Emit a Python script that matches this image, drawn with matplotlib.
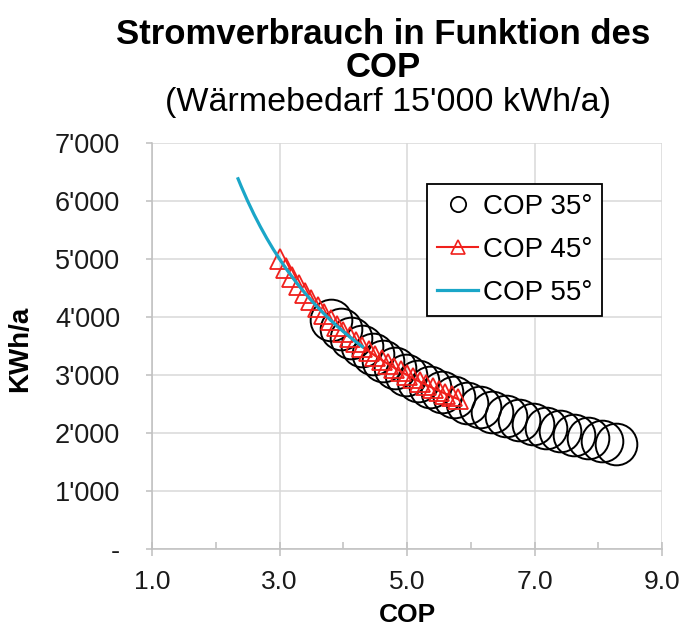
import matplotlib
matplotlib.use("Agg")
import matplotlib.pyplot as plt
from matplotlib.lines import Line2D
from matplotlib.ticker import FuncFormatter, MultipleLocator

plt.rcParams['font.family'] = ['Liberation Sans', 'DejaVu Sans']

# --- data ---
cop35 = [3.80, 3.96, 4.12, 4.29, 4.46, 4.63, 4.81, 4.99, 5.17, 5.36, 5.55, 5.74,
         5.94, 6.14, 6.34, 6.55, 6.76, 6.97, 7.18, 7.40, 7.62, 7.84, 8.06, 8.28]
kwh35 = [3947, 3788, 3641, 3497, 3363, 3240, 3119, 3006, 2901, 2799, 2703, 2613,
         2525, 2443, 2366, 2290, 2219, 2152, 2089, 2027, 1969, 1913, 1861, 1812]

cop45 = [3.0, 3.1, 3.2, 3.3, 3.4, 3.5, 3.6, 3.7, 3.8, 3.9, 4.0, 4.1, 4.2, 4.3,
         4.4, 4.5, 4.6, 4.7, 4.8, 4.9, 5.0, 5.1, 5.2, 5.3, 5.4, 5.5, 5.6, 5.7, 5.8]
kwh45 = [5000, 4839, 4688, 4545, 4412, 4286, 4167, 4054, 3947, 3846, 3750, 3659,
         3571, 3488, 3409, 3333, 3261, 3191, 3125, 3061, 3000, 2941, 2885, 2830,
         2778, 2727, 2679, 2632, 2586]

cop55 = [2.35, 2.4, 2.5, 2.6, 2.7, 2.8, 2.9, 3.0, 3.1, 3.2, 3.3, 3.4, 3.5, 3.6,
         3.7, 3.8, 3.9, 4.0, 4.1, 4.2, 4.3]
kwh55 = [6383, 6250, 6000, 5769, 5556, 5357, 5172, 5000, 4839, 4688, 4545, 4412,
         4286, 4167, 4054, 3947, 3846, 3750, 3659, 3571, 3488]

series_labels = ["COP 35°", "COP 45°", "COP 55°"]
x_ticks = [1.0, 3.0, 5.0, 7.0, 9.0]
y_ticks = [0, 1000, 2000, 3000, 4000, 5000, 6000, 7000]

RED = '#F0201C'
CYAN = '#1AA6C8'
GRID = '#D9D9D9'
AXC = '#BFBFBF'

fig = plt.figure(figsize=(6.81, 6.29), dpi=100)
ax = fig.add_axes([152/681, 1-549/629, 510/681, 406/629])

ax.plot(cop35, kwh35, linestyle='none', marker='o', markersize=30,
        markerfacecolor='none', markeredgecolor='black', markeredgewidth=1.4, zorder=3)
ax.plot(cop45, kwh45, color=RED, linewidth=1.6, marker='^', markersize=15,
        markerfacecolor='none', markeredgecolor=RED, markeredgewidth=1.3, zorder=4)
ax.plot(cop55, kwh55, color=CYAN, linewidth=2.3, zorder=5)

ax.set_xlim(1.0, 9.0)
ax.set_ylim(0, 7000)
ax.set_xticks(x_ticks)
ax.xaxis.set_minor_locator(MultipleLocator(1.0))
ax.set_yticks(y_ticks)
ax.xaxis.set_major_formatter(FuncFormatter(lambda v, p: f"{v:.1f}"))
ax.yaxis.set_major_formatter(FuncFormatter(
    lambda v, p: "-" if v == 0 else f"{int(v):,}".replace(",", "'")))

ax.grid(True, which='major', color=GRID, linewidth=1.1)
ax.set_axisbelow(True)
for s in ['top', 'right']:
    ax.spines[s].set_visible(False)
for s in ['left', 'bottom']:
    ax.spines[s].set_color(AXC)
    ax.spines[s].set_linewidth(1.1)

ax.tick_params(axis='x', which='major', direction='inout', length=10, color=AXC,
               labelsize=19, pad=10, width=1.1)
ax.tick_params(axis='x', which='minor', direction='in', length=5, color=AXC, width=1.1)
ax.tick_params(axis='y', which='major', direction='out', length=4, color=AXC,
               labelsize=19.5, pad=19, width=1.1)
for lab in ax.get_xticklabels() + ax.get_yticklabels():
    lab.set_color('#1a1a1a')

fig.text(383/681, 1-44/629, "Stromverbrauch in Funktion des", ha='center', va='baseline',
         fontsize=25, fontweight='bold')
fig.text(383/681, 1-77/629, "COP", ha='center', va='baseline',
         fontsize=25, fontweight='bold')
fig.text(388/681, 1-111/629, "(Wärmebedarf 15'000 kWh/a)", ha='center', va='baseline',
         fontsize=24.5)
fig.text(407/681, 1-615/629, "COP", ha='center', va='center', fontsize=19, fontweight='bold')
fig.text(20/681, 1-349/629, "KWh/a", ha='center', va='center', rotation=90,
         fontsize=20, fontweight='bold')

handles = [
    Line2D([], [], linestyle='none', marker='o', markersize=11, markerfacecolor='none',
           markeredgecolor='black', markeredgewidth=1.3),
    Line2D([], [], color=RED, linewidth=1.5, marker='^', markersize=10,
           markerfacecolor='none', markeredgecolor=RED, markeredgewidth=1.2),
    Line2D([], [], color=CYAN, linewidth=2.3),
]
leg = fig.legend(handles, series_labels, loc='upper left',
                 bbox_to_anchor=(427/681, 1-184/629), bbox_transform=fig.transFigure,
                 fontsize=20, frameon=True, fancybox=False, handlelength=1.5,
                 handletextpad=0.15, borderpad=0.35, labelspacing=0.62, borderaxespad=0)
leg.get_frame().set_edgecolor('black')
leg.get_frame().set_linewidth(1.3)
leg.get_frame().set_facecolor('white')
leg.get_frame().set_alpha(1)

fig.savefig("out.png", dpi=100)
